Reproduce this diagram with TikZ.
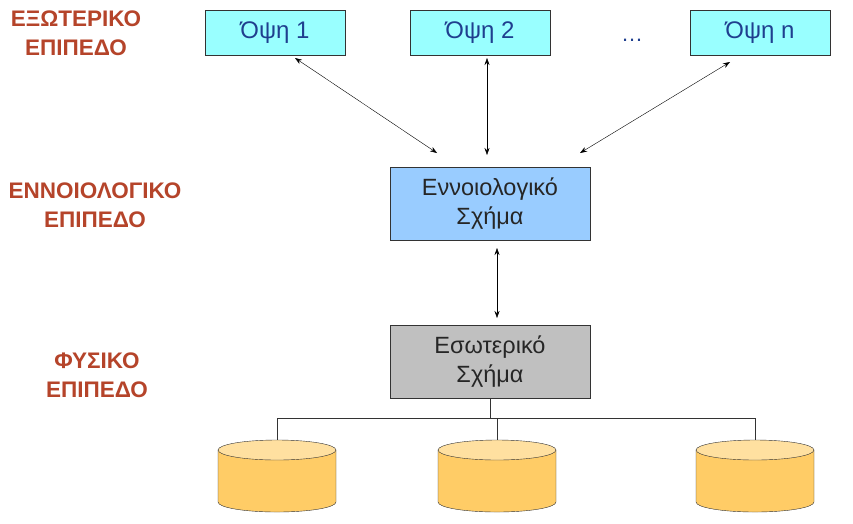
\documentclass[tikz,border=0pt]{standalone}
\usepackage{fontspec}
\setmainfont{Liberation Sans}
\usetikzlibrary{arrows.meta}
\definecolor{lvl}{HTML}{B5442A}
\definecolor{cyanbox}{HTML}{99FFFF}
\definecolor{bluebox}{HTML}{99CCFF}
\definecolor{graybox}{HTML}{C0C0C0}
\definecolor{txtblue}{HTML}{1F3F8F}
\definecolor{cylside}{HTML}{FFCC66}
\definecolor{cyltop}{HTML}{FFE0A0}
\tikzset{
 view/.style={draw=black!80,fill=cyanbox,minimum width=140pt,minimum height=45pt,inner sep=0,font=\fontsize{24}{26}\selectfont,text=txtblue},
 schema/.style={draw=black!80,minimum width=200pt,minimum height=73pt,align=center,font=\fontsize{23.5}{29}\selectfont,text=black!85},
 level/.style={align=center,font=\bfseries\fontsize{22.5}{29}\selectfont,text=lvl},
 arr/.style={{Stealth[length=7pt,width=5pt]}-{Stealth[length=7pt,width=5pt]},thin},
}
\begin{document}
\begin{tikzpicture}[x=1pt,y=-1pt]
\useasboundingbox (0,0) rectangle (853,523);
\node[level] (l1) at (76,33) {ΕΞΩΤΕΡΙΚΟ\\ΕΠΙΠΕΔΟ};
\node[level] (l2) at (95,205) {ΕΝΝΟΙΟΛΟΓΙΚΟ\\ΕΠΙΠΕΔΟ};
\node[level] (l3) at (97,375) {ΦΥΣΙΚΟ\\ΕΠΙΠΕΔΟ};
\node[view] (v1) at (275,32.5) {Όψη 1};
\node[view] (v2) at (480,32.5) {Όψη 2};
\node[view] (vn) at (760,32.5) {Όψη n};
\node[text=txtblue,font=\fontsize{22}{24}\selectfont] (dots) at (632,40) {…};
\node[schema,fill=bluebox] (c) at (490,203.5) {Εννοιολογικό\\Σχήμα};
\node[schema,fill=graybox] (i) at (490,361.5) {Εσωτερικό\\Σχήμα};
\coordinate (a1s) at (295,58); \coordinate (a1e) at (437,153);
\coordinate (a2s) at (487,58); \coordinate (a2e) at (487,155);
\coordinate (a3s) at (730,62); \coordinate (a3e) at (580,153);
\draw[arr] (a1s) -- (a1e);
\draw[arr] (a2s) -- (a2e);
\draw[arr] (a3s) -- (a3e);
\coordinate (b1) at (497,248); \coordinate (b2) at (497,318);
\draw[arr] (b1) -- (b2);
\coordinate (h) at (490,418);
\draw[black!80] (i.south) -- (h);
\draw[black!80] (277,440) -- (277,418) -- (755,418) -- (755,440);
\draw[black!80] (497,418) -- (497,440);
\foreach \x/\n in {277/d1,497/d2,755/d3}{
  \fill[cylside,draw=black!80] (\x-59,450) -- (\x-59,502) arc[start angle=180,end angle=360,x radius=59,y radius=-10] -- (\x+59,450) -- cycle;
  \draw[black!80,fill=cyltop] (\x,450) ellipse[x radius=59,y radius=10];
  \coordinate (\n) at (\x,475);
}
\end{tikzpicture}
\end{document}
